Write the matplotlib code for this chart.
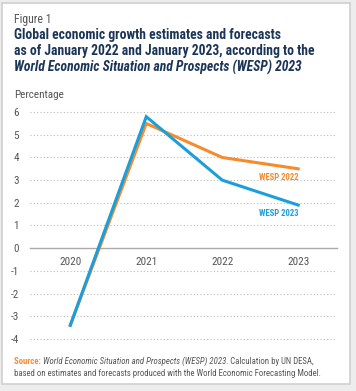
import matplotlib
matplotlib.use("Agg")
import matplotlib.pyplot as plt
import matplotlib.patches as mpatches

# Données
YEARS = [2020, 2021, 2022, 2023]
WESP_2022 = [-3.4, 5.5, 4.0, 3.5]
WESP_2023 = [-3.4, 5.8, 3.0, 1.9]
Y_TICKS = [-4, -3, -2, -1, 0, 1, 2, 3, 4, 5, 6]

ORANGE = "#F68B2C"
BLUE = "#1B9FDA"
NAVY = "#1C3557"
GREY_TXT = "#555555"
FONT = ["Roboto Condensed", "Liberation Sans Narrow", "Roboto", "DejaVu Sans"]

plt.rcParams["font.family"] = FONT

W, H = 356, 391
fig = plt.figure(figsize=(W / 100, H / 100), dpi=100, facecolor="#EDEDED")

# panneau blanc avec bordure grise
fig.patches.append(mpatches.Rectangle((2 / W, 7 / H), 348 / W, 381 / H,
                                      transform=fig.transFigure,
                                      facecolor="white", edgecolor="#CFCFCF",
                                      linewidth=1.2, zorder=-5))

# ── textes d'en-tête ──
fig.text(14 / W, 1 - 19 / H, "Figure 1", fontsize=8.5, color=GREY_TXT,
         va="center", ha="left")
fig.text(14 / W, 1 - 35 / H, "Global economic growth estimates and forecasts",
         fontsize=9.8, fontweight="bold", color=NAVY, va="center")
fig.text(14 / W, 1 - 51 / H,
         "as of January 2022 and January 2023, according to the",
         fontsize=9.8, fontweight="bold", color=NAVY, va="center")
fig.text(14 / W, 1 - 67 / H,
         "World Economic Situation and Prospects (WESP) 2023",
         fontsize=9.8, fontweight="bold", fontstyle="italic", color=NAVY,
         va="center")
fig.text(14 / W, 1 - 95 / H, "Percentage", fontsize=8, color=GREY_TXT,
         va="center")

# ── axes ──
ax_l, ax_r, ax_t, ax_b = 30, 337, 111, 340
ax = fig.add_axes([ax_l / W, 1 - ax_b / H, (ax_r - ax_l) / W, (ax_b - ax_t) / H])
ax.set_facecolor("none")
ax.set_zorder(2)

ax.plot(YEARS, WESP_2022, color=ORANGE, linewidth=2.2, solid_joinstyle="miter",
        zorder=3)
ax.plot(YEARS, WESP_2023, color=BLUE, linewidth=2.2, solid_joinstyle="miter",
        zorder=4)

ax.text(YEARS[-1], WESP_2022[-1] - 0.2, "WESP 2022", color=ORANGE,
        fontsize=6.2, fontweight="bold", ha="right", va="top")
ax.text(YEARS[-1], WESP_2023[-1] - 0.17, "WESP 2023", color=BLUE,
        fontsize=6.2, fontweight="bold", ha="right", va="top")

ax.set_xlim(2019.47, 2023.51)
ax.set_ylim(-4.05, 6.05)
ax.set_yticks(Y_TICKS)
ax.set_yticklabels([str(v) for v in Y_TICKS])
ax.set_xticks(YEARS)
ax.set_xticklabels([str(y) for y in YEARS])

for v in Y_TICKS:
    if v != 0:
        ax.axhline(v, color="#BBBBBB", linestyle=(0, (1, 2)), linewidth=0.8,
                   zorder=1)

for s in ["top", "right", "left"]:
    ax.spines[s].set_visible(False)
ax.spines["bottom"].set_position(("data", 0))
ax.spines["bottom"].set_color("#AAAAAA")
ax.spines["bottom"].set_linewidth(1.0)
ax.tick_params(axis="both", length=0, labelsize=8, labelcolor=GREY_TXT)
ax.tick_params(axis="y", pad=8)
ax.tick_params(axis="x", pad=6)

# ── source (texte composite) ──
fig.canvas.draw()
renderer = fig.canvas.get_renderer()


def chain(x_px, y_px, pieces):
    x = x_px / W
    for txt, kw in pieces:
        t = fig.text(x, 1 - y_px / H, txt, fontsize=6.3, va="center",
                     ha="left", **kw)
        bb = t.get_window_extent(renderer=renderer)
        x += bb.width / W


chain(14, 361, [
    ("Source: ", dict(color=ORANGE, fontweight="bold")),
    ("World Economic Situation and Prospects (WESP) 2023", dict(color=GREY_TXT, fontstyle="italic")),
    (". Calculation by UN DESA,", dict(color=GREY_TXT)),
])
chain(14, 373, [
    ("based on estimates and forecasts produced with the World Economic Forecasting Model.",
     dict(color=GREY_TXT)),
])

fig.savefig("out.png", dpi=100, facecolor=fig.get_facecolor())
